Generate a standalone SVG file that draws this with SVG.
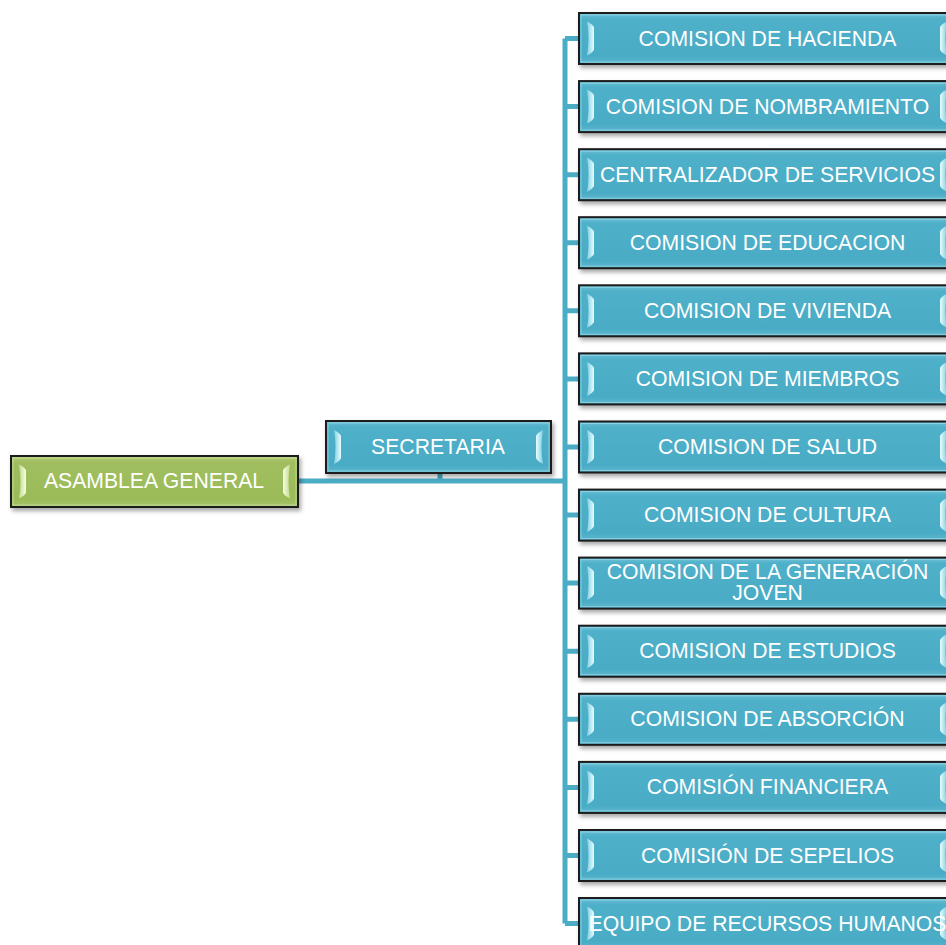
<svg xmlns="http://www.w3.org/2000/svg" width="946" height="945" viewBox="0 0 946 945">
<defs>
<linearGradient id="gBlue" x1="0" y1="0" x2="0" y2="1">
<stop offset="0" stop-color="#6cc0d6"/>
<stop offset="0.12" stop-color="#4fb0c9"/>
<stop offset="0.85" stop-color="#4aabc5"/>
<stop offset="1" stop-color="#5fb8ce"/>
</linearGradient>
<linearGradient id="gGreen" x1="0" y1="0" x2="0" y2="1">
<stop offset="0" stop-color="#b5cf7c"/>
<stop offset="0.12" stop-color="#a0be5f"/>
<stop offset="0.85" stop-color="#9bbb59"/>
<stop offset="1" stop-color="#a9c56e"/>
</linearGradient>
<linearGradient id="bBlueL" x1="0" y1="0" x2="1" y2="0">
<stop offset="0" stop-color="#7fd0e2"/>
<stop offset="1" stop-color="#e8fdff"/>
</linearGradient>
<linearGradient id="bBlueR" x1="0" y1="0" x2="1" y2="0">
<stop offset="0" stop-color="#e8fdff"/>
<stop offset="1" stop-color="#7fd0e2"/>
</linearGradient>
<linearGradient id="bGreenL" x1="0" y1="0" x2="1" y2="0">
<stop offset="0" stop-color="#c2da8c"/>
<stop offset="1" stop-color="#f8ffe6"/>
</linearGradient>
<linearGradient id="bGreenR" x1="0" y1="0" x2="1" y2="0">
<stop offset="0" stop-color="#f8ffe6"/>
<stop offset="1" stop-color="#c2da8c"/>
</linearGradient>
<filter id="sh" x="-5%" y="-20%" width="115%" height="150%">
<feDropShadow dx="2" dy="3" stdDeviation="2" flood-color="#000" flood-opacity="0.35"/>
</filter>
<path id="bl" d="M0,0 Q6,3 7,6 L7,28 Q6,31 0,34 Q3,17 0,0 Z"/>
<path id="br" d="M7,0 Q1,3 0,6 L0,28 Q1,31 7,34 Q4,17 7,0 Z"/>
</defs>
<style>
.box{stroke:#1a1a1a;stroke-width:2;filter:url(#sh)}
.blue{fill:url(#gBlue)}
.green{fill:url(#gGreen)}
.inner{fill:none;stroke-width:1;stroke-opacity:0.6}
.ib{stroke:#a9e3f0}
.ig{stroke:#d6e8b0}
.bvbl{fill:url(#bBlueL)}
.bvbr{fill:url(#bBlueR)}
.bvgl{fill:url(#bGreenL)}
.bvgr{fill:url(#bGreenR)}
.lbl{font-family:"Liberation Sans",Arial,sans-serif;font-size:21.2px;fill:#ffffff;text-anchor:middle}
.conn{stroke:#4bacc6;stroke-width:5;fill:none}
</style>

<g id="connectors">
<path class="conn" d="M298,481 H565"/>
<path class="conn" d="M440,473 V481"/>
<path class="conn" d="M565,38.5 V923.5"/>
<path class="conn" d="M565,38.5 H579 M565,106.6 H579 M565,174.7 H579 M565,242.7 H579 M565,310.8 H579 M565,378.9 H579 M565,447 H579 M565,515.1 H579 M565,583.1 H579 M565,651.2 H579 M565,719.3 H579 M565,787.4 H579 M565,855.5 H579 M565,923.5 H579"/>
</g>

<g id="asamblea-general" transform="translate(11,456)">
<rect class="box green" x="0" y="0" width="287" height="51"/>
<rect class="inner ig" x="2" y="2" width="283" height="47"/>
<use href="#bl" class="bvgl" x="8" y="8.5"/>
<use href="#br" class="bvgr" x="272" y="8.5"/>
<text class="lbl" x="143" y="32">ASAMBLEA GENERAL</text>
</g>

<g id="secretaria" transform="translate(326,421)">
<rect class="box blue" x="0" y="0" width="225" height="52"/>
<rect class="inner ib" x="2" y="2" width="221" height="48"/>
<use href="#bl" class="bvbl" x="8" y="9"/>
<use href="#br" class="bvbr" x="210" y="9"/>
<text class="lbl" x="112" y="32.5">SECRETARIA</text>
</g>

<g id="comision-hacienda" transform="translate(579,13)">
<rect class="box blue" x="0" y="0" width="377" height="51"/>
<rect class="inner ib" x="2" y="2" width="373" height="47"/>
<use href="#bl" class="bvbl" x="8" y="8.5"/>
<use href="#br" class="bvbr" x="361" y="8.5"/>
<text class="lbl" x="188.5" y="32.5">COMISION DE HACIENDA</text>
</g>

<g id="comision-nombramiento" transform="translate(579,81.1)">
<rect class="box blue" x="0" y="0" width="377" height="51"/>
<rect class="inner ib" x="2" y="2" width="373" height="47"/>
<use href="#bl" class="bvbl" x="8" y="8.5"/>
<use href="#br" class="bvbr" x="361" y="8.5"/>
<text class="lbl" x="188.5" y="32.5">COMISION DE NOMBRAMIENTO</text>
</g>

<g id="centralizador-servicios" transform="translate(579,149.2)">
<rect class="box blue" x="0" y="0" width="377" height="51"/>
<rect class="inner ib" x="2" y="2" width="373" height="47"/>
<use href="#bl" class="bvbl" x="8" y="8.5"/>
<use href="#br" class="bvbr" x="361" y="8.5"/>
<text class="lbl" x="188.5" y="32.5">CENTRALIZADOR DE SERVICIOS</text>
</g>

<g id="comision-educacion" transform="translate(579,217.2)">
<rect class="box blue" x="0" y="0" width="377" height="51"/>
<rect class="inner ib" x="2" y="2" width="373" height="47"/>
<use href="#bl" class="bvbl" x="8" y="8.5"/>
<use href="#br" class="bvbr" x="361" y="8.5"/>
<text class="lbl" x="188.5" y="32.5">COMISION DE EDUCACION</text>
</g>

<g id="comision-vivienda" transform="translate(579,285.3)">
<rect class="box blue" x="0" y="0" width="377" height="51"/>
<rect class="inner ib" x="2" y="2" width="373" height="47"/>
<use href="#bl" class="bvbl" x="8" y="8.5"/>
<use href="#br" class="bvbr" x="361" y="8.5"/>
<text class="lbl" x="188.5" y="32.5">COMISION DE VIVIENDA</text>
</g>

<g id="comision-miembros" transform="translate(579,353.4)">
<rect class="box blue" x="0" y="0" width="377" height="51"/>
<rect class="inner ib" x="2" y="2" width="373" height="47"/>
<use href="#bl" class="bvbl" x="8" y="8.5"/>
<use href="#br" class="bvbr" x="361" y="8.5"/>
<text class="lbl" x="188.5" y="32.5">COMISION DE MIEMBROS</text>
</g>

<g id="comision-salud" transform="translate(579,421.5)">
<rect class="box blue" x="0" y="0" width="377" height="51"/>
<rect class="inner ib" x="2" y="2" width="373" height="47"/>
<use href="#bl" class="bvbl" x="8" y="8.5"/>
<use href="#br" class="bvbr" x="361" y="8.5"/>
<text class="lbl" x="188.5" y="32.5">COMISION DE SALUD</text>
</g>

<g id="comision-cultura" transform="translate(579,489.6)">
<rect class="box blue" x="0" y="0" width="377" height="51"/>
<rect class="inner ib" x="2" y="2" width="373" height="47"/>
<use href="#bl" class="bvbl" x="8" y="8.5"/>
<use href="#br" class="bvbr" x="361" y="8.5"/>
<text class="lbl" x="188.5" y="32.5">COMISION DE CULTURA</text>
</g>

<g id="comision-generacion-joven" transform="translate(579,557.6)">
<rect class="box blue" x="0" y="0" width="377" height="51"/>
<rect class="inner ib" x="2" y="2" width="373" height="47"/>
<use href="#bl" class="bvbl" x="8" y="8.5"/>
<use href="#br" class="bvbr" x="361" y="8.5"/>
<text class="lbl" x="188.5" y="21">COMISION DE LA GENERACIÓN</text>
<text class="lbl" x="188.5" y="42.5">JOVEN</text>
</g>

<g id="comision-estudios" transform="translate(579,625.7)">
<rect class="box blue" x="0" y="0" width="377" height="51"/>
<rect class="inner ib" x="2" y="2" width="373" height="47"/>
<use href="#bl" class="bvbl" x="8" y="8.5"/>
<use href="#br" class="bvbr" x="361" y="8.5"/>
<text class="lbl" x="188.5" y="32.5">COMISION DE ESTUDIOS</text>
</g>

<g id="comision-absorcion" transform="translate(579,693.8)">
<rect class="box blue" x="0" y="0" width="377" height="51"/>
<rect class="inner ib" x="2" y="2" width="373" height="47"/>
<use href="#bl" class="bvbl" x="8" y="8.5"/>
<use href="#br" class="bvbr" x="361" y="8.5"/>
<text class="lbl" x="188.5" y="32.5">COMISION DE ABSORCIÓN</text>
</g>

<g id="comision-financiera" transform="translate(579,761.9)">
<rect class="box blue" x="0" y="0" width="377" height="51"/>
<rect class="inner ib" x="2" y="2" width="373" height="47"/>
<use href="#bl" class="bvbl" x="8" y="8.5"/>
<use href="#br" class="bvbr" x="361" y="8.5"/>
<text class="lbl" x="188.5" y="32.5">COMISIÓN FINANCIERA</text>
</g>

<g id="comision-sepelios" transform="translate(579,830)">
<rect class="box blue" x="0" y="0" width="377" height="51"/>
<rect class="inner ib" x="2" y="2" width="373" height="47"/>
<use href="#bl" class="bvbl" x="8" y="8.5"/>
<use href="#br" class="bvbr" x="361" y="8.5"/>
<text class="lbl" x="188.5" y="32.5">COMISIÓN DE SEPELIOS</text>
</g>

<g id="equipo-recursos-humanos" transform="translate(579,898)">
<rect class="box blue" x="0" y="0" width="377" height="51"/>
<rect class="inner ib" x="2" y="2" width="373" height="47"/>
<use href="#bl" class="bvbl" x="8" y="8.5"/>
<use href="#br" class="bvbr" x="361" y="8.5"/>
<text class="lbl" x="188.5" y="32.5">EQUIPO DE RECURSOS HUMANOS</text>
</g>
</svg>
